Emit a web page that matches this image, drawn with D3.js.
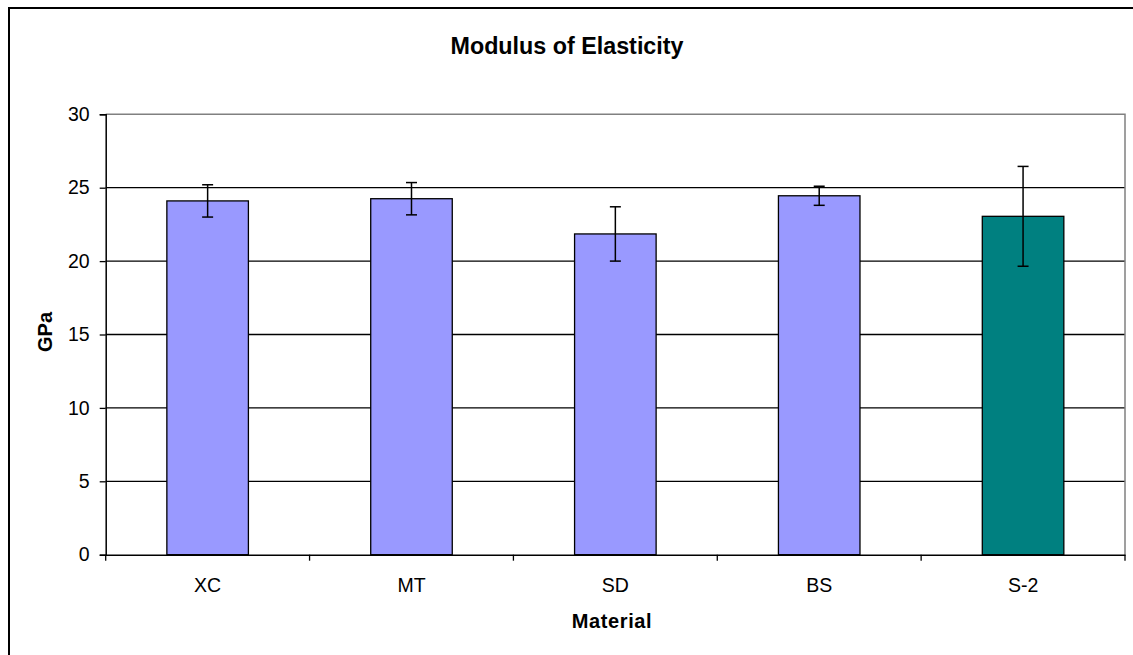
<!DOCTYPE html>
<html><head><meta charset="utf-8">
<script src="https://cdn.jsdelivr.net/npm/d3@7"></script>
<style>body{margin:0;background:#fff;}svg{display:block;font-family:"Liberation Sans",Arial,sans-serif;}</style>
</head><body>
<svg id="c" width="1133" height="655"></svg>
<script>
const categories = ["XC", "MT", "SD", "BS", "S-2"];
const values = [24.1, 24.25, 21.85, 24.45, 23.05];
const errors = [1.1, 1.1, 1.85, 0.65, 3.4];
const barColors = ["#9999ff", "#9999ff", "#9999ff", "#9999ff", "#008080"];
const yTicks = [0, 5, 10, 15, 20, 25, 30];
const title = "Modulus of Elasticity";
const xTitle = "Material";
const yTitle = "GPa";

const svg = d3.select("#c");
const L = 105.7, R = 1125, T = 114.3, B = 554.7;

svg.append("rect").attr("x", 9).attr("y", 8).attr("width", 1140).attr("height", 700)
  .attr("fill", "#fff").attr("stroke", "#000").attr("stroke-width", 2);

const x = d3.scaleBand().domain(categories).range([L, R]).padding(0);
const y = d3.scaleLinear().domain([0, 30]).range([B, T]);

// gridlines
svg.append("g").selectAll("line").data(yTicks.filter(d => d > 0 && d < 30)).join("line")
  .attr("x1", L).attr("x2", R).attr("y1", d => y(d)).attr("y2", d => y(d))
  .attr("stroke", "#000").attr("stroke-width", 1.3);

// plot border top/right gray
svg.append("path").attr("d", `M${L},${y(30)}H${R}V${B}`).attr("fill", "none")
  .attr("stroke", "#808080").attr("stroke-width", 1.5);

// bars
const bw = x.bandwidth() * 0.4;
svg.append("g").selectAll("rect").data(categories).join("rect")
  .attr("x", d => x(d) + x.bandwidth() / 2 - bw / 2)
  .attr("y", (d, i) => y(values[i]))
  .attr("width", bw)
  .attr("height", (d, i) => B - y(values[i]))
  .attr("fill", (d, i) => barColors[i])
  .attr("stroke", "#000").attr("stroke-width", 1.3);

// error bars
const eg = svg.append("g").attr("stroke", "#000").attr("stroke-width", 1.5);
categories.forEach((c, i) => {
  const cx = x(c) + x.bandwidth() / 2;
  const y1 = y(values[i] + errors[i]), y2 = y(values[i] - errors[i]);
  eg.append("line").attr("x1", cx).attr("x2", cx).attr("y1", y1).attr("y2", y2);
  eg.append("line").attr("x1", cx - 5.5).attr("x2", cx + 5.5).attr("y1", y1).attr("y2", y1);
  eg.append("line").attr("x1", cx - 5.5).attr("x2", cx + 5.5).attr("y1", y2).attr("y2", y2);
});

// y axis
const ya = svg.append("g").attr("transform", `translate(${L},0)`)
  .call(d3.axisLeft(y).tickValues(yTicks).tickSize(6).tickPadding(10).tickFormat(d3.format("d")));
ya.select(".domain").attr("stroke", "#000").attr("stroke-width", 1.5);
ya.selectAll(".tick line").attr("stroke", "#000").attr("stroke-width", 1.3);
ya.selectAll(".tick text").attr("font-size", 19.5).attr("fill", "#000")
  .attr("font-family", "'Liberation Sans',Arial,sans-serif");

// x axis
const xa = svg.append("g").attr("transform", `translate(0,${B})`)
  .call(d3.axisBottom(x).tickSize(0).tickPadding(23));
xa.select(".domain").attr("stroke", "#000").attr("stroke-width", 1.5);
xa.selectAll(".tick text").attr("font-size", 19.5).attr("fill", "#000")
  .attr("font-family", "'Liberation Sans',Arial,sans-serif");
const bounds = categories.map(c => x(c)).concat([R]);
svg.append("g").selectAll("line").data(bounds).join("line")
  .attr("x1", d => d).attr("x2", d => d).attr("y1", B).attr("y2", B + 6)
  .attr("stroke", "#000").attr("stroke-width", 1.3);

// titles
svg.append("text").attr("x", 567).attr("y", 54).attr("text-anchor", "middle")
  .attr("font-size", 23.3).attr("font-weight", "bold").text(title);
svg.append("text").attr("x", 612).attr("y", 628).attr("text-anchor", "middle")
  .attr("font-size", 20).attr("font-weight", "bold").attr("letter-spacing", 0.6).text(xTitle);
svg.append("text").attr("transform", `translate(52,332) rotate(-90)`)
  .attr("text-anchor", "middle").attr("font-size", 20).attr("font-weight", "bold").text(yTitle);
</script>
</body></html>
